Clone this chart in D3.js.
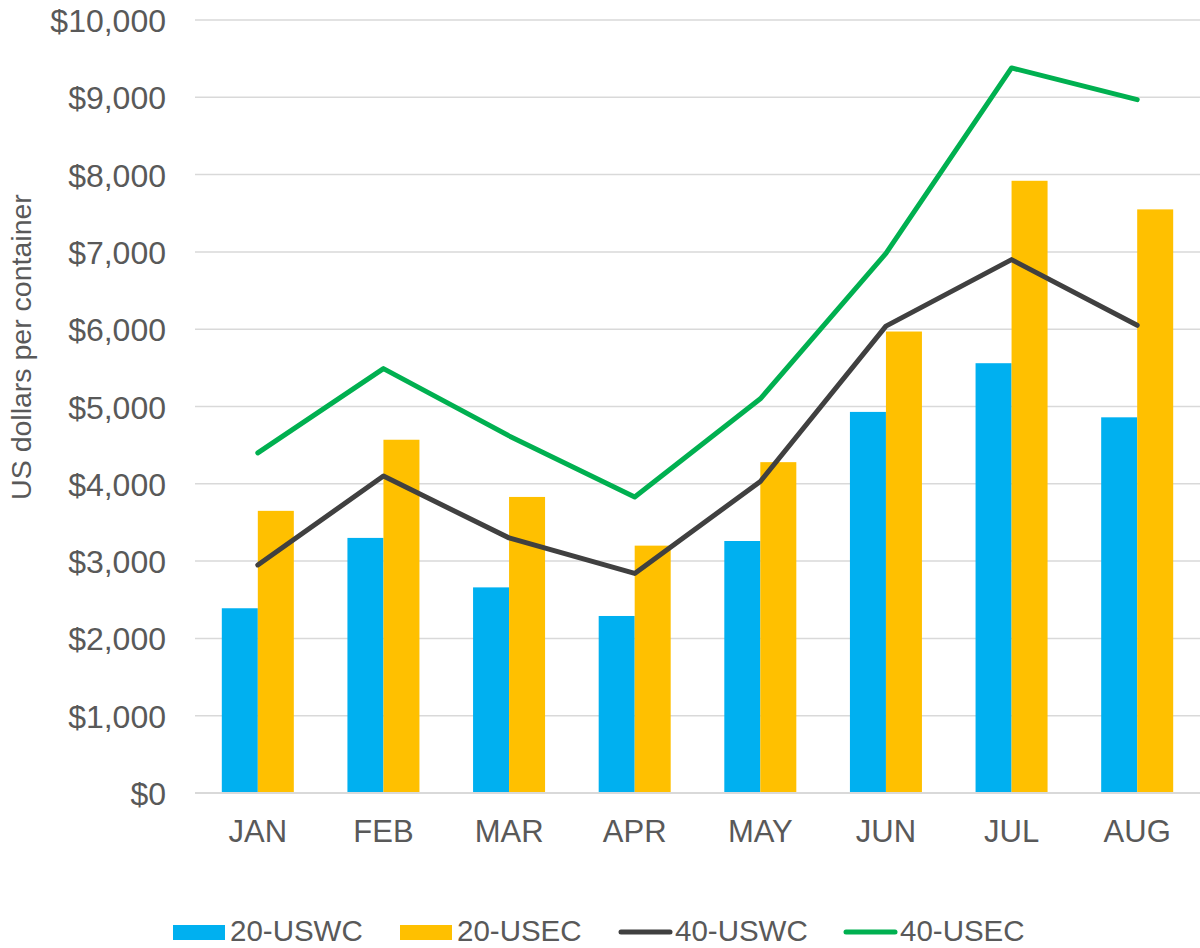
<!DOCTYPE html>
<html>
<head>
<meta charset="utf-8">
<script src="https://cdn.jsdelivr.net/npm/d3@7"></script>
<style>
  body { margin: 0; background: #fff; }
  svg { display: block; font-family: Arial, "Liberation Sans", sans-serif; }
</style>
</head>
<body>
<svg id="chart" width="1200" height="948"></svg>
<script>
const months = ["JAN", "FEB", "MAR", "APR", "MAY", "JUN", "JUL", "AUG"];
const uswc20 = [2390, 3300, 2660, 2290, 3260, 4930, 5560, 4860];
const usec20 = [3650, 4570, 3830, 3200, 4280, 5970, 7920, 7550];
const uswc40 = [2950, 4100, 3300, 2840, 4030, 6040, 6900, 6050];
const usec40 = [4400, 5490, 4620, 3830, 5100, 6980, 9380, 8970];
const yTicks = [0, 1000, 2000, 3000, 4000, 5000, 6000, 7000, 8000, 9000, 10000];
const barSeries = ["20-USWC", "20-USEC"];
const lineSeries = ["40-USWC", "40-USEC"];

const colors = {
  "20-USWC": "#00B0F0",
  "20-USEC": "#FFC000",
  "40-USWC": "#404040",
  "40-USEC": "#00B050"
};
const textColor = "#595959";

const svg = d3.select("#chart");
const plotLeft = 195, plotRight = 1200, plotTop = 20, plotBottom = 793;

const x = d3.scaleBand().domain(months).range([plotLeft, plotRight]).padding(0);
const y = d3.scaleLinear().domain([0, 10000]).range([plotBottom, plotTop]);
const barW = x.bandwidth() * 0.2866;
const x1 = d3.scaleBand().domain(barSeries)
  .range([(x.bandwidth() - 2 * barW) / 2, (x.bandwidth() + 2 * barW) / 2]).padding(0);

// gridlines
svg.append("g").selectAll("line").data(yTicks).join("line")
  .attr("x1", plotLeft).attr("x2", plotRight)
  .attr("y1", d => y(d)).attr("y2", d => y(d))
  .attr("stroke", "#D9D9D9").attr("stroke-width", 1.5);

// y tick labels
const yAxis = d3.axisLeft(y).tickValues(yTicks).tickSize(0).tickPadding(0)
  .tickFormat(d => "$" + d3.format(",")(d));
const gy = svg.append("g").attr("transform", "translate(166,0)").call(yAxis);
gy.select(".domain").remove();
gy.selectAll("text").attr("font-size", 32).attr("fill", textColor)
  .attr("font-family", "Arial, 'Liberation Sans', sans-serif").attr("dy", "0.36em");

// bars
const barData = months.map((m, i) => ({ m, vals: [
  { s: "20-USWC", v: uswc20[i] }, { s: "20-USEC", v: usec20[i] }
]}));
svg.append("g").selectAll("g").data(barData).join("g")
  .attr("transform", d => `translate(${x(d.m)},0)`)
  .selectAll("rect").data(d => d.vals).join("rect")
  .attr("x", d => x1(d.s)).attr("width", x1.bandwidth())
  .attr("y", d => y(d.v)).attr("height", d => y(0) - y(d.v))
  .attr("fill", d => colors[d.s]);

// baseline
svg.append("line").attr("x1", plotLeft).attr("x2", plotRight)
  .attr("y1", y(0)).attr("y2", y(0))
  .attr("stroke", "#D9D9D9").attr("stroke-width", 2);

// lines
const line = d3.line().x((d, i) => x(months[i]) + x.bandwidth() / 2).y(d => y(d));
[["40-USWC", uswc40], ["40-USEC", usec40]].forEach(([name, vals]) => {
  svg.append("path").datum(vals).attr("d", line)
    .attr("fill", "none").attr("stroke", colors[name])
    .attr("stroke-width", 5).attr("stroke-linejoin", "round").attr("stroke-linecap", "round");
});

// x axis labels
const xAxis = d3.axisBottom(x).tickSize(0).tickPadding(0);
const gx = svg.append("g").attr("transform", `translate(0,${plotBottom})`).call(xAxis);
gx.select(".domain").remove();
gx.selectAll("text").attr("font-size", 31).attr("fill", textColor)
  .attr("font-family", "Arial, 'Liberation Sans', sans-serif")
  .attr("dy", 0).attr("y", 49);

// y axis title
svg.append("text")
  .attr("transform", "translate(31,347) rotate(-90)")
  .attr("text-anchor", "middle")
  .attr("font-size", 28.5).attr("fill", textColor)
  .text("US dollars per container");

// legend
const legendItems = [
  { name: "20-USWC", type: "rect", x: 173 },
  { name: "20-USEC", type: "rect", x: 400 },
  { name: "40-USWC", type: "line", x: 618 },
  { name: "40-USEC", type: "line", x: 843 }
];
const lg = svg.append("g");
legendItems.forEach(it => {
  if (it.type === "rect") {
    lg.append("rect").attr("x", it.x).attr("y", 925).attr("width", 52).attr("height", 15)
      .attr("fill", colors[it.name]);
  } else {
    lg.append("line").attr("x1", it.x + 3).attr("x2", it.x + 52).attr("y1", 932).attr("y2", 932)
      .attr("stroke", colors[it.name]).attr("stroke-width", 5).attr("stroke-linecap", "round");
  }
  lg.append("text").attr("x", it.x + 57).attr("y", 941)
    .attr("font-size", 29.5).attr("fill", textColor).text(it.name);
});
</script>
</body>
</html>
